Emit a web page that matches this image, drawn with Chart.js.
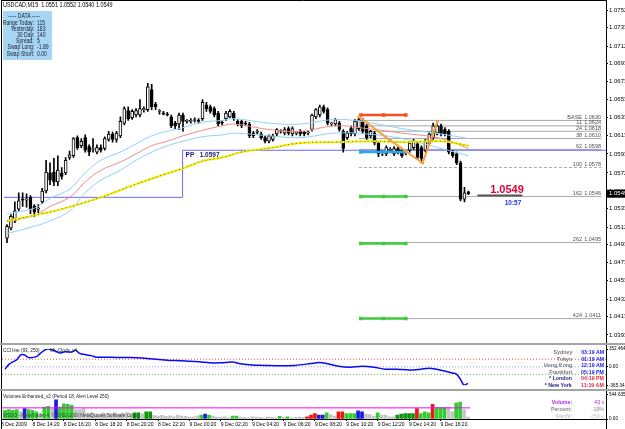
<!DOCTYPE html>
<html>
<head>
<meta charset="utf-8">
<title>USDCAD,M15</title>
<script src="https://cdn.jsdelivr.net/npm/chart.js@4.4.1/dist/chart.umd.min.js"></script>
<style>
  body { margin: 0; background: #fff; }
  #wrap { position: relative; width: 625px; height: 429px; overflow: hidden; font-family: 'Liberation Sans', Arial, sans-serif; }
  canvas { position: absolute; left: 0; }
  .t { position: absolute; white-space: nowrap; font-size: 6px; line-height: 7px; transform: scaleX(0.78); transform-origin: left center; }
  .r { text-align: right; transform-origin: right center; }
  .b { font-weight: bold; }
  .k { transform: scaleX(0.88); }
  .sep { position: absolute; left: 0; width: 625px; height: 2px; background: #a4a4a4; }
</style>
</head>
<body>
<div id="wrap">
  <canvas id="price" width="625" height="343" style="top:0"></canvas>
  <div class="sep" style="top:343px"></div>
  <canvas id="cci" width="625" height="44" style="top:345px"></canvas>
  <div class="sep" style="top:389px"></div>
  <canvas id="vol" width="625" height="38" style="top:391px"></canvas>

  <div class="t" style="left:3px;top:1px;font-size:6.5px;transform:scaleX(0.84)">USDCAD,M15&nbsp; 1.0551 1.0552 1.0540 1.0549</div>

  <div style="position:absolute;left:3px;top:11px;width:49px;height:49px;background:#a6d6f4"></div>
  <div class="t" style="left:8px;top:12px;color:#1a1a2e;font-size:6.5px">----- DATA -----</div>
  <div id="dataRows"></div>

  <div class="t" style="left:3px;top:347px;color:#202020">CCI line (93, 250)&nbsp;&nbsp;&nbsp;&nbsp;&nbsp;&nbsp;&nbsp;&nbsp;Mt_Clock_v4</div>
  <div id="clockRows"></div>

  <div class="t" style="left:3px;top:393px;color:#202020">Volumes Enhanced_v2 (Period 18, Alert Level 250)</div>
  <div class="t" style="left:3px;top:412px;color:#404040">MSDO - MetaTrader 4, &copy; 2001-2009 MetaQuotes Software Corp.</div>
  <div id="volRows"></div>
</div>

<script>
const FONT = "'Liberation Sans', Arial, sans-serif";

// ---- price bars (M15), oldest first ----
const open = [1.0500,1.0511,1.0519,1.0532,1.0543,1.0542,1.0545,1.0535,1.0532,1.0540,
  1.0552,1.0572,1.0573,1.0562,1.0572,1.0572,1.0589,1.0591,1.0611,1.0602,
  1.0611,1.0601,1.0598,1.0595,1.0600,1.0599,1.0609,1.0615,1.0609,1.0613,
  1.0627,1.0641,1.0633,1.0636,1.0636,1.0642,1.0642,1.0664,1.0648,1.0640,
  1.0638,1.0637,1.0634,1.0627,1.0626,1.0636,1.0629,1.0629,1.0630,1.0630,
  1.0632,1.0647,1.0645,1.0643,1.0638,1.0628,1.0632,1.0634,1.0638,1.0629,
  1.0629,1.0627,1.0626,1.0616,1.0617,1.0615,1.0611,1.0607,1.0609,1.0615,
  1.0618,1.0616,1.0621,1.0615,1.0616,1.0618,1.0617,1.0616,1.0620,1.0634,
  1.0636,1.0645,1.0642,1.0626,1.0626,1.0627,1.0618,1.0611,1.0621,1.0615,
  1.0621,1.0629,1.0624,1.0613,1.0616,1.0605,1.0595,1.0593,1.0597,1.0593,
  1.0599,1.0597,1.0595,1.0597,1.0600,1.0604,1.0600,1.0597,1.0604,1.0611,
  1.0616,1.0624,1.0620,1.0618,1.0595,1.0593,1.0583,1.0543,1.0551];
const high = [1.0515,1.0526,1.0540,1.0550,1.0550,1.0549,1.0547,1.0537,1.0537,1.0555,
  1.0586,1.0583,1.0588,1.0591,1.0578,1.0589,1.0596,1.0611,1.0613,1.0610,
  1.0614,1.0603,1.0610,1.0603,1.0603,1.0612,1.0618,1.0617,1.0618,1.0634,
  1.0645,1.0645,1.0642,1.0643,1.0653,1.0645,1.0671,1.0670,1.0650,1.0642,
  1.0640,1.0639,1.0636,1.0629,1.0638,1.0638,1.0631,1.0632,1.0633,1.0632,
  1.0653,1.0650,1.0647,1.0645,1.0640,1.0630,1.0640,1.0642,1.0640,1.0631,
  1.0630,1.0629,1.0628,1.0618,1.0620,1.0617,1.0613,1.0614,1.0615,1.0621,
  1.0620,1.0622,1.0623,1.0623,1.0618,1.0620,1.0618,1.0618,1.0637,1.0643,
  1.0647,1.0647,1.0644,1.0628,1.0632,1.0629,1.0620,1.0618,1.0624,1.0631,
  1.0634,1.0632,1.0626,1.0619,1.0618,1.0607,1.0597,1.0602,1.0600,1.0601,
  1.0601,1.0599,1.0597,1.0607,1.0609,1.0607,1.0602,1.0609,1.0617,1.0627,
  1.0626,1.0626,1.0622,1.0620,1.0597,1.0595,1.0585,1.0556,1.0552];
const low = [1.0495,1.0509,1.0517,1.0530,1.0535,1.0534,1.0527,1.0524,1.0528,1.0538,
  1.0550,1.0559,1.0558,1.0558,1.0565,1.0570,1.0587,1.0589,1.0598,1.0600,
  1.0595,1.0591,1.0595,1.0593,1.0595,1.0597,1.0607,1.0606,1.0606,1.0611,
  1.0625,1.0630,1.0631,1.0634,1.0634,1.0639,1.0640,1.0642,1.0642,1.0637,
  1.0636,1.0635,1.0622,1.0621,1.0620,1.0618,1.0627,1.0627,1.0628,1.0627,
  1.0630,1.0640,1.0638,1.0634,1.0624,1.0625,1.0630,1.0633,1.0630,1.0624,
  1.0622,1.0624,1.0611,1.0611,1.0615,1.0609,1.0605,1.0605,1.0607,1.0613,
  1.0616,1.0614,1.0614,1.0613,1.0614,1.0613,1.0613,1.0614,1.0618,1.0632,
  1.0634,1.0638,1.0625,1.0624,1.0624,1.0618,1.0595,1.0609,1.0613,1.0613,
  1.0619,1.0616,1.0609,1.0611,1.0603,1.0590,1.0591,1.0591,1.0595,1.0591,
  1.0593,1.0589,1.0592,1.0595,1.0598,1.0587,1.0583,1.0595,1.0602,1.0609,
  1.0614,1.0613,1.0613,1.0593,1.0589,1.0581,1.0541,1.0540,1.0548];
const close = [1.0513,1.0524,1.0530,1.0541,1.0542,1.0543,1.0532,1.0529,1.0533,1.0552,
  1.0573,1.0564,1.0562,1.0575,1.0568,1.0586,1.0592,1.0610,1.0600,1.0607,
  1.0597,1.0595,1.0599,1.0600,1.0597,1.0610,1.0615,1.0609,1.0616,1.0629,
  1.0643,1.0632,1.0640,1.0641,1.0643,1.0643,1.0667,1.0645,1.0645,1.0641,
  1.0637,1.0636,1.0624,1.0624,1.0636,1.0629,1.0630,1.0630,1.0631,1.0629,
  1.0650,1.0643,1.0640,1.0636,1.0626,1.0627,1.0638,1.0640,1.0632,1.0626,
  1.0624,1.0626,1.0613,1.0613,1.0618,1.0611,1.0607,1.0613,1.0613,1.0620,
  1.0619,1.0620,1.0616,1.0621,1.0617,1.0615,1.0615,1.0617,1.0636,1.0642,
  1.0645,1.0640,1.0627,1.0627,1.0631,1.0620,1.0599,1.0616,1.0615,1.0629,
  1.0631,1.0618,1.0611,1.0618,1.0605,1.0593,1.0594,1.0600,1.0598,1.0599,
  1.0595,1.0591,1.0594,1.0605,1.0607,1.0589,1.0588,1.0607,1.0615,1.0624,
  1.0624,1.0615,1.0615,1.0595,1.0591,1.0583,1.0543,1.0550,1.0549];

// ---- moving averages / envelope (bar index, price) ----
const maIdx = [0,7,11,16,20,24,29,33,37,41,45,50,55,58,67,75,84,92,101,111,118];
const maMid = [1.0518,1.0525,1.0535,1.0545,1.0562,1.0575,1.0584,1.0593,1.0602,1.0607,1.0613,1.0619,1.0624,1.0626,1.0620,1.0618,1.0624,1.0621,1.0616,1.0610,1.0599];
const maUp  = [1.0527,1.0533,1.0544,1.0554,1.0572,1.0586,1.0595,1.0604,1.0613,1.0618,1.0622,1.0628,1.0630,1.0632,1.0627,1.0626,1.0631,1.0628,1.0621,1.0615,1.0610];
const maLow = [1.0505,1.0513,1.0519,1.0530,1.0550,1.0564,1.0575,1.0586,1.0595,1.0602,1.0607,1.0612,1.0614,1.0616,1.0613,1.0611,1.0616,1.0615,1.0610,1.0599,1.0591];
const slowIdx = [0,9,14,24,32,40,45,50,55,60,68,75,84,94,102,111,118];
const slowMa  = [1.0519,1.0527,1.0532,1.0545,1.0558,1.0570,1.0577,1.0585,1.0589,1.0595,1.0600,1.0605,1.0606,1.0607,1.0606,1.0607,1.0602];

// ---- pivot / fibo levels ----
const ppIdx = [-0.77, 44.9, 44.9, 153.2];
const ppVal = [1.0545, 1.0545, 1.0597, 1.0597];
const fibNames  = ['BASE','11','24','38','62','100','162','262','424'];
const fibLevels = [1.0630,1.0624,1.0618,1.0610,1.0598,1.0578,1.0546,1.0495,1.0411];
const pivotLevels = [1.0636,1.0595,1.0546,1.0494,1.0411];
const pivotColors = ['#f4511e','#29a8ec','#41c941','#41c941','#41c941'];
const zzIdx = [90, 98, 106.3, 110.1];
const zzVal = [1.0634, 1.0608, 1.0583, 1.0629];
const priceTicks = [1.0752,1.0733,1.0712,1.0693,1.0673,1.0653,1.0633,1.0613,1.0593,1.0572,1.0552,1.0533,1.0512,1.0493,1.0473,1.0453,1.0432,1.0413,1.0393];
const lastPrice = 1.0549;

// ---- CCI ----
const cciIdx = [0,1,2,3,4,5,6,8,9,10,11,13,14,15,17,18,19,20,22,23,24,27,30,32,35,37,40,42,45,47,50,52,55,58,60,63,66,70,74,78,80,82,85,88,91,94,97,100,103,106,108,110,112,114,115,116,117,118];
const cciVal = [-47,47,97,140,234,234,183,202,266,327,352,309,271,295,295,327,266,247,221,196,190,190,183,183,172,159,140,127,121,108,97,79,79,93,60,34,28,19,28,65,84,65,9,-9,9,-9,-47,-47,-65,-47,-28,-47,-84,-122,-140,-234,-365,-327];
const cciTicks = [352.464, 0, -365.341];
const cciLevels = [150, 0, -150];

// ---- volumes ----
const volume = [196,211,196,211,160,233,211,196,160,124,269,284,233,429,269,342,327,305,211,211,233,
  131,145,116,102,138,124,116,145,109,131,138,124,
  138,138,116,160,160,80,
  65,80,58,72,50,87,65,58,44,50,65,
  87,109,87,65,
  44,36,50,29,65,65,44,36,29,50,44,36,29,44,36,29,58,36,50,29,36,44,36,
  50,87,124,87,87,138,102,65,160,160,124,124,124,182,160,109,102,65,138,87,
  87,50,50,87,109,124,124,124,233,124,160,138,327,254,254,254,269,160,356,378,211,43];
const volKind = ('ggggsbgggsggsbggggsss' + 'ssssssssssss' + 'ddsdds' + 'sssssssssss' + 'gbgs' +
  'ssssggssssssssssgsgssss' + 'rrrbbgssrrgggbbsssgssssdddddrgggrgggssggss').split('');
const volTicks = [544.635, 0];
const alertLevel = 250;

// ---- time axis ----
const timeIdx = [-1,7,15,23,31,39,47,55,63,71,79,87,95,103,111];
const timeText = ['8 Dec 2009','8 Dec 14:20','8 Dec 16:20','8 Dec 18:20','8 Dec 20:20','8 Dec 22:20',
  '9 Dec 00:20','9 Dec 02:20','9 Dec 04:20','9 Dec 06:20','9 Dec 08:20','9 Dec 10:20',
  '9 Dec 12:20','9 Dec 14:20','9 Dec 16:20'];

// ---- side panels ----
const dataLabels = ['Range Today:','Yesterday:','30 Day:','Spread:','Swap Long:','Swap Short:'];
const dataValues = ['115','183','140','5','-1.89','0.00'];
const cities = ['Sydney','Tokyo','Hong Kong','Frankfurt','* London','* New York'];
const cityTimes = ['03:19 AM','01:19 AM','12:19 AM','05:19 PM','04:19 PM','11:19 AM'];
const volInfoLabels = ['Volume:','Percent:','AlertV:'];
const volInfoValues = ['43 v','19%','250 v'];

// layout constants (pixels / index range)
const X_MIN = -0.77, X_MAX = 153.2;
const FIB_FROM = 90, FIB_TO = 152;
const PIV_IDX = [90.5, 96.3, 102];

const barIdx = open.map((_, i) => i);
const pts = (xs, ys) => xs.map((x, k) => ({ x, y: ys[k] }));
const line = (data, color, width, order, extra) => Object.assign(
  { type: 'line', data, borderColor: color, borderWidth: width, pointRadius: 0, tension: 0, fill: false, order }, extra || {});

function yAxis(min, max, ticks, fmt, size) {
  return {
    position: 'right', min, max,
    afterBuildTicks: s => { s.ticks = ticks.map(v => ({ value: v })); },
    afterFit: s => { s.width = 19; },
    ticks: { font: { size: size || 6, family: FONT }, color: '#000', padding: 1, callback: fmt },
    grid: { drawOnChartArea: false, color: '#000', tickLength: 2 },
    border: { display: true, color: '#000', width: 1 }
  };
}
const hiddenX = { type: 'linear', min: X_MIN, max: X_MAX, display: false, offset: false, grid: { offset: false } };
const base = { animation: false, responsive: false, events: [], plugins: { legend: { display: false }, tooltip: { enabled: false } } };

const frame = {
  id: 'frame',
  afterDraw(chart) {
    const { ctx, chartArea: a } = chart;
    ctx.save();
    ctx.strokeStyle = '#000';
    ctx.lineWidth = 1;
    ctx.beginPath();
    ctx.moveTo(1.5, 0); ctx.lineTo(1.5, chart.height);
    ctx.moveTo(a.right + 0.5, 0); ctx.lineTo(a.right + 0.5, chart.height);
    ctx.stroke();
    ctx.restore();
  }
};

const priceDecor = {
  id: 'priceDecor',
  afterDraw(chart) {
    const { ctx, scales: { x, y }, chartArea: a } = chart;
    ctx.save();
    ctx.font = `5.5px ${FONT}`;
    ctx.fillStyle = '#505050';
    ctx.textAlign = 'right';
    ctx.textBaseline = 'bottom';
    fibLevels.forEach((lv, k) => {
      const py = y.getPixelForValue(lv);
      ctx.fillText(fibNames[k], a.right - 24, py - 0.5);
      ctx.fillText(lv.toFixed(4), a.right - 5, py - 0.5);
    });
    // PP label
    ctx.textAlign = 'left';
    ctx.textBaseline = 'top';
    ctx.font = `bold 6.5px ${FONT}`;
    ctx.fillStyle = '#20206a';
    ctx.fillText('PP   ' + ppVal[2].toFixed(4), x.getPixelForValue(ppIdx[1]) + 3, y.getPixelForValue(ppVal[2]) + 1.5);
    // big price + time
    ctx.textAlign = 'center';
    ctx.textBaseline = 'middle';
    ctx.font = `bold 11px ${FONT}`;
    ctx.fillStyle = '#e4003a';
    ctx.fillText(lastPrice.toFixed(4), 507, 190);
    ctx.font = `bold 6.5px ${FONT}`;
    ctx.fillStyle = '#2233ee';
    ctx.fillText('10:57', 513, 203);
    // axis price box
    const py = y.getPixelForValue(lastPrice);
    ctx.fillStyle = '#000';
    ctx.fillRect(a.right + 1, py - 4, chart.width - a.right, 8);
    ctx.fillStyle = '#fff';
    ctx.textAlign = 'left';
    ctx.font = `6px ${FONT}`;
    ctx.fillText(lastPrice.toFixed(4), a.right + 3, py);
    // top border
    ctx.strokeStyle = '#000';
    ctx.beginPath(); ctx.moveTo(1.5, 0.5); ctx.lineTo(a.right, 0.5); ctx.stroke();
    ctx.restore();
  }
};

// ---- price chart ----
new Chart(document.getElementById('price'), {
  type: 'bar',
  data: {
    datasets: [
      ...fibLevels.map((lv, k) => line(pts([FIB_FROM, FIB_TO], [lv, lv]), '#a9a9a9', 1, 12, k === 5 ? { borderDash: [3, 2] } : {})),
      line(pts(ppIdx, ppVal), '#6a6aff', 1, 11),
      { type: 'bar', data: barIdx.map(i => ({ x: i, y: [low[i], high[i]] })), backgroundColor: '#000', barThickness: 1, grouped: false, order: 10 },
      { type: 'bar', data: barIdx.map(i => ({ x: i, y: [open[i], close[i]] })),
        backgroundColor: barIdx.map(i => close[i] >= open[i] ? '#fff' : '#000'),
        borderColor: '#000', borderWidth: 1, borderSkipped: false, barThickness: 3, grouped: false, order: 9 },
      line(pts(maIdx, maUp), '#8fd0f7', 1, 6, { tension: 0.4 }),
      line(pts(maIdx, maLow), '#8fd0f7', 1, 6, { tension: 0.4 }),
      line(pts(maIdx, maMid), '#f08a8a', 1, 6, { tension: 0.4 }),
      line(pts(slowIdx, slowMa), '#f2ee00', 2, 5, { tension: 0.4 }),
      line(pts(slowIdx, slowMa), '#7a7a20', 1, 4, { tension: 0.4, borderDash: [1, 3] }),
      ...pivotLevels.map((lv, k) => line(pts(PIV_IDX, PIV_IDX.map(() => lv)), pivotColors[k], 2.5, 3,
        { pointRadius: 2.5, pointStyle: 'rect', pointBackgroundColor: pivotColors[k], pointBorderWidth: 0 })),
      line(pts(zzIdx, zzVal), '#f4a23a', 2, 2, { pointRadius: 2, pointStyle: 'rect', pointBackgroundColor: '#f4a23a', pointBorderWidth: 0 }),
      line(pts([120.3, 131.8], [1.0547, 1.0547]), '#555', 2, 1)
    ]
  },
  options: Object.assign({}, base, {
    layout: { padding: { left: 2, right: 0, top: 0, bottom: 0 } },
    scales: {
      x: hiddenX,
      y: yAxis(1.03891, 1.07580, priceTicks, v => v.toFixed(4))
    }
  }),
  plugins: [frame, priceDecor]
});

// ---- CCI chart ----
new Chart(document.getElementById('cci'), {
  type: 'line',
  data: {
    datasets: [
      line(pts(cciIdx, cciVal), '#0a0af0', 1.5, 1, { tension: 0.3 }),
      ...cciLevels.map((lv, k) => line(pts([X_MIN, X_MAX], [lv, lv]), ['#f05050', '#9a9af5', '#5cb85c'][k], 1, 2, { borderDash: [1, 2] }))
    ]
  },
  options: Object.assign({}, base, {
    layout: { padding: { left: 2, right: 0, top: 4, bottom: 1 } },
    scales: {
      x: hiddenX,
      y: yAxis(-365.341, 352.464, cciTicks, v => v === 0 ? '0.00' : v.toFixed(3), 4.6)
    }
  }),
  plugins: [frame]
});

// ---- volume chart ----
const volColorMap = { g: '#2ccf2c', d: '#0c960c', b: '#1a1ae6', r: '#f01616', s: '#c4c4c4' };
new Chart(document.getElementById('vol'), {
  type: 'bar',
  data: {
    datasets: [
      { type: 'bar', data: barIdx.map(i => ({ x: i, y: volume[i] })), backgroundColor: volKind.map(k => volColorMap[k]),
        barThickness: 3, grouped: false, order: 2 },
      line(pts([X_MIN, 118.6], [alertLevel, alertLevel]), '#ff00ff', 1, 1)
    ]
  },
  options: Object.assign({}, base, {
    layout: { padding: { left: 2, right: 0, top: 3, bottom: 0 } },
    scales: {
      x: {
        type: 'linear', min: X_MIN, max: X_MAX, offset: false,
        afterBuildTicks: s => { s.ticks = timeIdx.map(v => ({ value: v })); },
        afterFit: s => { s.height = 10; },
        ticks: { autoSkip: false, maxRotation: 0, align: 'start', padding: 1, font: { size: 5, family: FONT }, color: '#000',
          callback: v => timeText[timeIdx.indexOf(v)] },
        grid: { drawOnChartArea: false, offset: false, color: '#000', tickLength: 2 },
        border: { display: true, color: '#000' }
      },
      y: yAxis(0, 544.635, volTicks, v => v === 0 ? '0.00' : v.toFixed(3), 4.6)
    }
  }),
  plugins: [frame]
});

// ---- text panels ----
function addText(parent, html, style, cls) {
  const d = document.createElement('div');
  d.className = 't ' + (cls || '');
  d.innerHTML = html;
  Object.assign(d.style, style);
  document.getElementById(parent).appendChild(d);
}
dataLabels.forEach((lb, k) => {
  const top = (18.5 + k * 6.2) + 'px';
  addText('dataRows', lb, { right: (625 - 34) + 'px', top, color: '#1a1a2e', fontSize: '6.5px' }, 'r');
  addText('dataRows', dataValues[k], { left: '37px', top, color: '#1a1a2e', fontSize: '6.5px' });
});
cities.forEach((c, k) => {
  const top = (349 + k * 6.6) + 'px';
  const star = k >= 4;
  addText('clockRows', c, { right: (625 - 572) + 'px', top, color: star ? '#1c1c80' : '#777' }, 'r b k');
  addText('clockRows', cityTimes[k], { right: (625 - 604) + 'px', top, color: star ? '#ee1c3c' : '#1a1aee' }, 'r b k');
});
const volInfoColors = ['#b41ee6', '#888', '#c4c4c4'];
volInfoLabels.forEach((lb, k) => {
  const top = (399 + k * 7) + 'px';
  addText('volRows', lb, { right: (625 - 572) + 'px', top, color: volInfoColors[k] }, 'r b k');
  addText('volRows', volInfoValues[k], { right: (625 - 604) + 'px', top, color: volInfoColors[k] }, 'r k');
});
</script>
</body>
</html>
